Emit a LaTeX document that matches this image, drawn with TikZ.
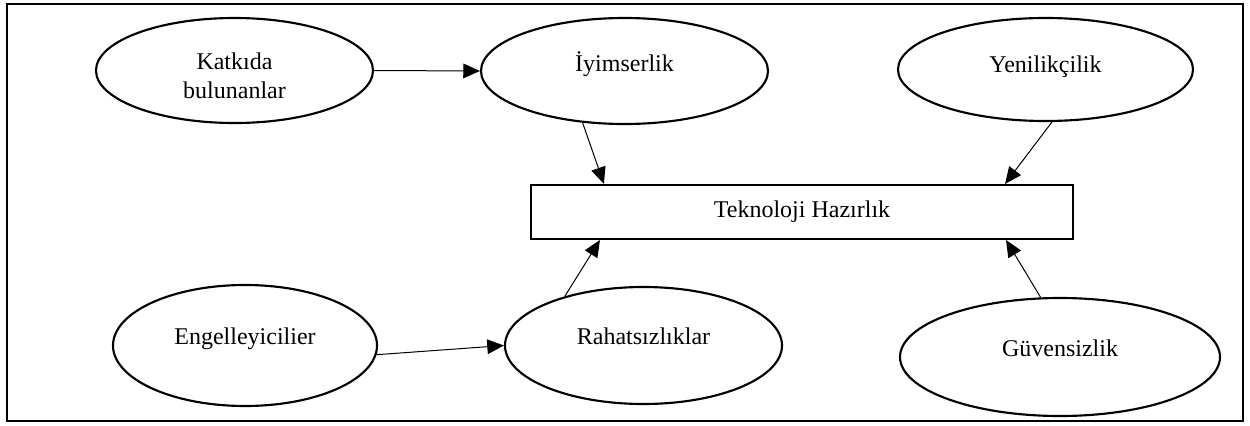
\documentclass[tikz,border=0pt]{standalone}
\usepackage{fontspec}
\setmainfont{Liberation Serif}
\usetikzlibrary{arrows.meta,shapes.geometric}
\tikzset{
  oval/.style={draw, ellipse, line width=1.6pt, inner sep=0pt, align=center, text height=13pt, text depth=14pt},
  box/.style={draw, rectangle, line width=1.6pt, inner sep=0pt},
  link/.style={line width=0.75pt, -{Triangle[length=12.5pt,width=11pt]}}
}

\begin{document}
\begin{tikzpicture}[x=0.75pt, y=-0.75pt, font=\fontsize{18}{21.75}\selectfont]
		%%%%% START %%%%%
		\useasboundingbox (0, 0) rectangle (1250, 425);
		\draw[line width=2pt] (7, 4) rectangle (1243, 421);
		
		\node[oval, minimum width=207.75pt, minimum height=78.75pt, text height=, text depth=] (katki) at (234.5, 70.5) {\rule{0pt}{21pt}Katkıda\\bulunanlar};
		\node[oval, minimum width=215.25pt, minimum height=79.5pt, text depth=13pt] (iyim) at (624.5, 71) {İyimserlik};
		\node[oval, minimum width=221.25pt, minimum height=77.25pt, text depth=8pt] (yeni) at (1045.5, 69.5) {Yenilikçilik};
		
		\node[box, minimum width=406.5pt, minimum height=40.5pt] (tekno) at (802, 212) {Teknoloji Hazırlık};
		
		\node[oval, minimum width=198pt, minimum height=90.75pt] (engel) at (245, 345.5) {Engelleyicilier};
		\node[oval, minimum width=207.75pt, minimum height=87.75pt, text depth=15pt] (rahat) at (643.5, 345.5) {Rahatsızlıklar};
		\node[oval, minimum width=240pt, minimum height=88.5pt] (guven) at (1060, 357) {Güvensizlik};
		
		\draw[link] (katki.east) -- (iyim.west);
		\draw[link] (iyim.231) -- ([xshift=55.5pt]tekno.north west);
		\draw[link] (yeni.277) -- ([xshift=-51.75pt]tekno.north east);
		\draw[link] (rahat.148) -- ([xshift=52.5pt]tekno.south west);
		\draw[link] (guven.108.7) -- ([xshift=-51pt]tekno.south east);
		\draw[link] (engel.-4) -- (rahat.west);
		%%%%% END %%%%%
\end{tikzpicture}
\end{document}
